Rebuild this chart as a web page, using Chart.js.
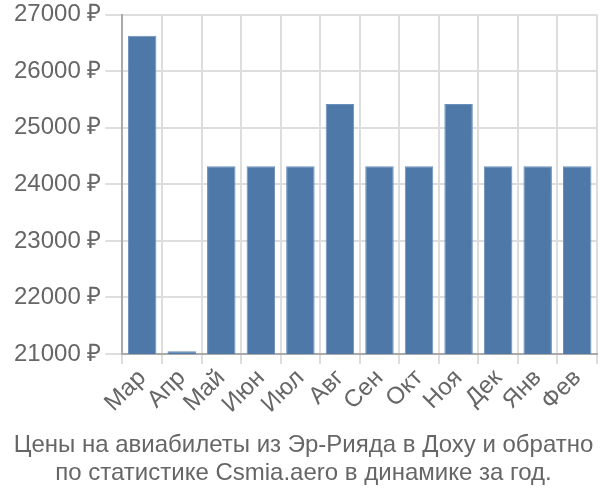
<!DOCTYPE html>
<html>
<head>
<meta charset="utf-8">
<script src="https://cdn.jsdelivr.net/npm/chart.js@4"></script>
<style>
  html, body { margin: 0; padding: 0; background: #fff; }
  #wrap { width: 600px; height: 500px; }
</style>
</head>
<body>
<div id="wrap"><canvas id="chart"></canvas></div>
<script>
const months = ['Мар', 'Апр', 'Май', 'Июн', 'Июл', 'Авг', 'Сен', 'Окт', 'Ноя', 'Дек', 'Янв', 'Фев']
const prices = [26630, 21050, 24320, 24320, 24320, 25420, 24320, 24320, 25420, 24320, 24320, 24320]
const titleLines = [
  'Цены на авиабилеты из Эр-Рияда в Доху и обратно',
  'по статистике Csmia.aero в динамике за год.'
]

Chart.defaults.font.family = '"Liberation Sans", Arial, sans-serif'
Chart.defaults.color = '#666'

const config = {
  type: 'bar',
  data: {
    labels: months,
    datasets: [{
      data: prices,
      backgroundColor: '#4d78a8',
      borderColor: '#6a8fba',
      borderWidth: 1
    }]
  },
  options: {
    responsive: true,
    maintainAspectRatio: false,
    animation: false,
    layout: { padding: { left: 10, right: 3, top: 0, bottom: 0 } },
    plugins: {
      legend: { display: false },
      tooltip: { enabled: false },
      title: {
        display: true,
        position: 'bottom',
        text: titleLines,
        font: { size: 24, weight: 'normal', lineHeight: 1.15 },
        color: '#666',
        padding: { top: 13, bottom: 13 }
      }
    },
    scales: {
      x: {
        grid: { color: '#ddd', lineWidth: 2, offset: true, tickLength: 10 },
        border: { color: '#aaa', width: 2 },
        ticks: { font: { size: 24 }, maxRotation: 45, minRotation: 45, padding: 0, autoSkip: false }
      },
      y: {
        min: 21000,
        max: 27000,
        grid: { color: '#ddd', lineWidth: 2, tickLength: 17 },
        border: { color: '#aaa', width: 2 },
        ticks: {
          stepSize: 1000,
          font: { size: 24, lineHeight: 0.9 },
          padding: 4,
          callback: v => v + ' ₽'
        }
      }
    }
  }
}

new Chart(document.getElementById('chart'), config)
</script>
</body>
</html>
